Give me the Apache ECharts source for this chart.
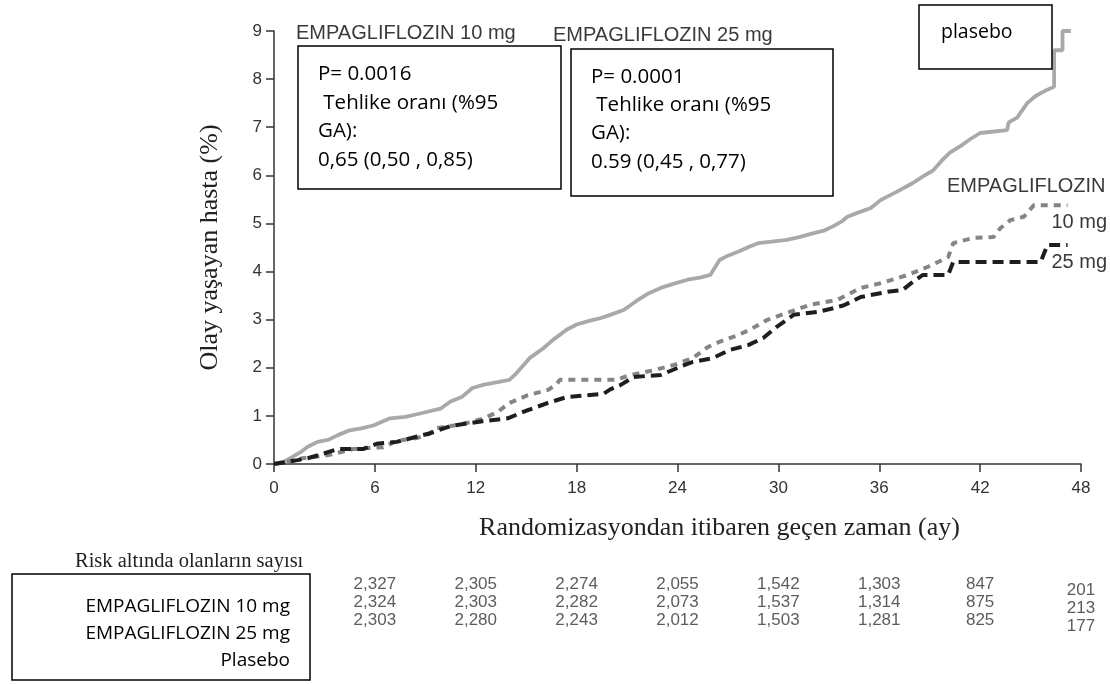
<!DOCTYPE html>
<html><head><meta charset="utf-8">
<script src="https://cdn.jsdelivr.net/npm/echarts@6/dist/echarts.min.js"></script>
<style>html,body{margin:0;padding:0;background:#fff}#c{width:1110px;height:684px}</style>
</head><body><div id="c"></div>
<script>
// ---- data ----
const xTickStep = 6;
const placebo = [[0,0],[0.6,0.05],[1.1,0.15],[1.6,0.25],[2.0,0.36],[2.6,0.46],[3.2,0.5],[3.8,0.6],[4.5,0.7],[5.2,0.74],[5.9,0.8],[6.9,0.95],[7.8,0.98],[8.7,1.05],[9.9,1.15],[10.5,1.3],[11.2,1.4],[11.8,1.58],[12.5,1.65],[13.3,1.7],[14.0,1.75],[14.4,1.88],[15.2,2.2],[16.0,2.4],[16.6,2.58],[17.4,2.79],[18.0,2.9],[18.8,2.98],[19.4,3.03],[20.0,3.1],[20.8,3.2],[21.6,3.4],[22.3,3.55],[23.0,3.66],[23.8,3.75],[24.6,3.83],[25.4,3.88],[25.95,3.93],[26.5,4.24],[27.0,4.33],[27.6,4.41],[28.3,4.52],[28.8,4.59],[29.6,4.62],[30.5,4.66],[31.3,4.72],[32.1,4.8],[32.7,4.85],[33.3,4.95],[33.8,5.05],[34.1,5.14],[34.7,5.22],[35.5,5.32],[36.1,5.49],[37.0,5.65],[38.0,5.84],[38.6,5.98],[39.2,6.1],[39.7,6.3],[40.2,6.47],[40.8,6.6],[41.4,6.75],[42.0,6.88],[43.6,6.94],[43.7,7.1],[44.2,7.2],[44.8,7.5],[45.3,7.65],[46.0,7.78],[46.4,7.84],[46.4,8.6],[46.9,8.6],[46.9,9.0],[47.4,9.0]];
const empa10 = [[0,0],[0.8,0.05],[1.7,0.12],[2.5,0.15],[3.3,0.19],[4.0,0.25],[4.7,0.31],[5.5,0.33],[6.5,0.35],[7.3,0.48],[8.5,0.54],[9.2,0.62],[9.7,0.75],[10.7,0.8],[11.7,0.87],[12.5,0.95],[13.3,1.08],[14.0,1.27],[15.1,1.43],[16.3,1.54],[16.8,1.65],[17.0,1.75],[20.4,1.75],[21.0,1.83],[22.6,1.95],[23.8,2.06],[24.9,2.2],[25.8,2.43],[26.5,2.54],[27.6,2.68],[28.3,2.79],[29.3,2.99],[30.5,3.14],[31.9,3.31],[33.5,3.41],[34.9,3.66],[36.1,3.76],[37.7,3.93],[38.9,4.1],[40.1,4.3],[40.4,4.59],[41.6,4.7],[42.8,4.72],[43.2,4.9],[43.8,5.07],[44.6,5.14],[45.2,5.38],[47.2,5.38]];
const empa25 = [[0,0],[0.7,0.04],[1.4,0.08],[2.0,0.12],[2.7,0.19],[3.8,0.31],[5.3,0.31],[6.1,0.42],[7.3,0.46],[8.3,0.55],[9.3,0.64],[10.5,0.79],[12.4,0.89],[13.9,0.95],[15.1,1.12],[16.3,1.27],[17.4,1.39],[19.6,1.46],[20.0,1.55],[20.6,1.64],[21.4,1.81],[23.0,1.85],[24.3,2.04],[24.9,2.12],[26.1,2.2],[27.1,2.37],[28.2,2.47],[29.1,2.62],[29.9,2.85],[30.9,3.1],[32.3,3.16],[33.3,3.24],[33.9,3.3],[34.9,3.47],[36.5,3.58],[37.4,3.62],[37.9,3.76],[38.6,3.93],[40.1,3.93],[40.4,4.2],[45.6,4.2],[46.0,4.55],[47.2,4.55]];
const riskColumns = [6,12,18,24,30,36,42,48];
const riskRows = ['EMPAGLIFLOZIN 10 mg','EMPAGLIFLOZIN 25 mg','Plasebo'];
const riskEmpa10 = [2327,2305,2274,2055,1542,1303,847,201];
const riskEmpa25 = [2324,2303,2282,2073,1537,1314,875,213];
const riskPlacebo = [2303,2280,2243,2012,1503,1281,825,177];
const yAxisTitle = 'Olay yaşayan hasta (%)';
const xAxisTitle = 'Randomizasyondan itibaren geçen zaman (ay)';
const riskTitle = 'Risk altında olanların sayısı';
const box1Lines = ['P= 0.0016',' Tehlike oranı (%95','GA):','0,65 (0,50 , 0,85)'];
const box2Lines = ['P= 0.0001',' Tehlike oranı (%95','GA):','0.59 (0,45 , 0,77)'];

// ---- chart ----
const chart = echarts.init(document.getElementById('c'), null, {renderer:'canvas'});
const SANS = 'Liberation Sans, Arial, sans-serif';
const BOXF = '"Open Sans", "Noto Sans", sans-serif';
const SERIF = 'Liberation Serif, "Times New Roman", serif';
const fmt = v => v.toLocaleString('en-US');

function riskSeries(vals, rowName) {
  return {
    type:'scatter', xAxisIndex:1, yAxisIndex:1, symbolSize:0, silent:true,
    data: vals.map((v,i)=>({value:[riskColumns[i], rowName, v],
      label:{offset: i===vals.length-1 ? [0,6] : [0,0]}})),
    label:{show:true, position:'inside', formatter:p=>fmt(p.value[2]),
      fontFamily:SANS, fontSize:17, color:'#333'}
  };
}
function boxText(lines, x, ys) {
  return lines.map((t,i)=>({type:'text', z:101, style:{text:t, x:x, y:ys[i], font:'20.5px '+BOXF, fill:'#000', textVerticalAlign:'middle'}}));
}
const axisCommon = {
  axisLine:{show:true, lineStyle:{color:'#333', width:1.5}},
  axisTick:{show:true, length:8, lineStyle:{color:'#333', width:1.5}},
  splitLine:{show:false}
};
const lbl = (t,x,y,align)=>({type:'text', z:100, style:{text:t, x:x, y:y, font:'20px '+SANS, fill:'#3a3a3a', textAlign:align||'left', textVerticalAlign:'middle'}});
chart.setOption({
  animation:false,
  backgroundColor:'#fff',
  grid:[{left:274, right:29, top:31, bottom:220},
        {left:274, right:29, top:575, height:54}],
  xAxis:[Object.assign({type:'value', min:0, max:48, interval:xTickStep,
      name:xAxisTitle, nameLocation:'middle', nameGap:51,
      nameTextStyle:{fontFamily:SERIF, fontSize:26, color:'#222', padding:[0,0,0,84]},
      axisLabel:{margin:16, fontFamily:SANS, fontSize:17, color:'#333'}}, axisCommon),
    {type:'value', min:0, max:48, gridIndex:1, show:false}],
  yAxis:[Object.assign({type:'value', min:0, max:9, interval:1,
      name:yAxisTitle, nameLocation:'middle', nameGap:51,
      nameTextStyle:{fontFamily:SERIF, fontSize:26, color:'#222'},
      axisLabel:{margin:12, fontFamily:SANS, fontSize:17, color:'#333'}}, axisCommon),
    {type:'category', data:riskRows, inverse:true, gridIndex:1, show:false}],
  series:[
    {type:'line', name:'Plasebo', data:placebo, showSymbol:false, z:2,
      lineStyle:{color:'#a9a9a9', width:3.8}},
    {type:'line', name:'EMPAGLIFLOZIN 10 mg', data:empa10, showSymbol:false, z:3,
      lineStyle:{color:'#858585', width:4, type:[7,6]}},
    {type:'line', name:'EMPAGLIFLOZIN 25 mg', data:empa25, showSymbol:false, z:4,
      lineStyle:{color:'#1e1e1e', width:4, type:[11,6]}},
    riskSeries(riskEmpa10, riskRows[0]),
    riskSeries(riskEmpa25, riskRows[1]),
    riskSeries(riskPlacebo, riskRows[2])
  ],
  graphic:[
    lbl('EMPAGLIFLOZIN 10 mg', 296, 33),
    lbl('EMPAGLIFLOZIN 25 mg', 553, 35),
    lbl('EMPAGLIFLOZIN', 947, 186),
    lbl('10 mg', 1107, 222, 'right'),
    lbl('25 mg', 1107, 262, 'right'),
    {type:'rect', z:100, shape:{x:298, y:46, width:263, height:143}, style:{fill:'#fff', stroke:'#000', lineWidth:1.5}},
    {type:'rect', z:100, shape:{x:571, y:49, width:262, height:147}, style:{fill:'#fff', stroke:'#000', lineWidth:1.5}},
    {type:'rect', z:100, shape:{x:919, y:5, width:133, height:64}, style:{fill:'#fff', stroke:'#000', lineWidth:1.5}},
    {type:'text', z:101, style:{text:'plasebo', x:941, y:32, font:'19.5px '+BOXF, fill:'#000', textVerticalAlign:'middle'}},
    ...boxText(box1Lines, 318, [74,103,131,160]),
    ...boxText(box2Lines, 591, [77,105,133,162]),
    {type:'text', z:100, style:{text:riskTitle, x:75, y:562, font:'20.5px '+SERIF, fill:'#222', textVerticalAlign:'middle'}},
    {type:'rect', z:100, shape:{x:12, y:574, width:298, height:106}, style:{fill:'#fff', stroke:'#000', lineWidth:1.5}},
    {type:'text', z:101, style:{text:riskRows[0], x:290, y:607, font:'19px '+BOXF, fill:'#000', textAlign:'right', textVerticalAlign:'middle'}},
    {type:'text', z:101, style:{text:riskRows[1], x:290, y:634, font:'19px '+BOXF, fill:'#000', textAlign:'right', textVerticalAlign:'middle'}},
    {type:'text', z:101, style:{text:riskRows[2], x:290, y:661, font:'19px '+BOXF, fill:'#000', textAlign:'right', textVerticalAlign:'middle'}}
  ]
});
</script>
</body></html>
